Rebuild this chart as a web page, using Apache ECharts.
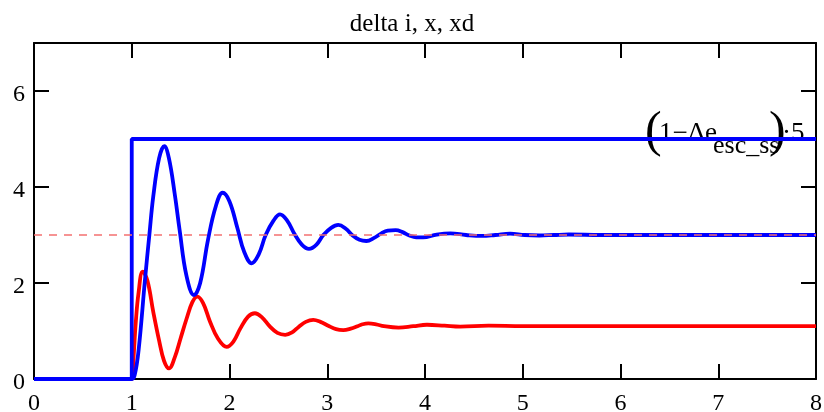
<!DOCTYPE html>
<html>
<head>
<meta charset="utf-8">
<script src="https://cdn.jsdelivr.net/npm/echarts@6/dist/echarts.min.js"></script>
<style>
  html, body { margin: 0; padding: 0; background: #fff; }
  #chart { width: 824px; height: 412px; }
</style>
</head>
<body>
<div id="chart"></div>
<script>
'use strict'
// x axis ticks and y axis ticks
var xTicks = [0, 1, 2, 3, 4, 5, 6, 7, 8];
var yTicks = [0, 2, 4, 6];

// step input (1-Δe_esc_ss)*5
var stepT = [0, 1, 1, 8];
var stepV = [0, 0, 5, 5];

// x (blue)
var xT = [0, 1, 1.03, 1.07, 1.135, 1.18, 1.22, 1.28, 1.333, 1.38, 1.44, 1.49, 1.56, 1.637, 1.7, 1.78, 1.86, 1.93, 2.0, 2.08, 2.15, 2.227, 2.3, 2.37, 2.45, 2.517, 2.59, 2.665, 2.74, 2.813, 2.89, 2.96, 3.04, 3.113, 3.19, 3.26, 3.33, 3.40, 3.48, 3.55, 3.62, 3.70, 3.77, 3.84, 3.91, 3.98, 4.12, 4.26, 4.42, 4.58, 4.72, 4.87, 5.02, 5.17, 5.32, 5.47, 5.8, 6.5, 8];
var xV = [0, 0, 0.08, 0.6, 2.06, 3.0, 3.8, 4.6, 4.85, 4.6, 3.85, 3.1, 2.15, 1.75, 2.0, 2.9, 3.6, 3.88, 3.7, 3.15, 2.65, 2.41, 2.6, 3.0, 3.3, 3.43, 3.3, 3.02, 2.8, 2.71, 2.8, 3.0, 3.15, 3.21, 3.13, 2.99, 2.9, 2.875, 2.94, 3.03, 3.09, 3.10, 3.06, 2.99, 2.95, 2.95, 3.01, 3.035, 3.0, 2.98, 3.0, 3.03, 3.0, 2.99, 3.0, 3.01, 3.0, 3.0, 3.0];

// xd (red)
var xdT = [0, 1, 1.02, 1.04, 1.07, 1.112, 1.16, 1.22, 1.28, 1.33, 1.381, 1.44, 1.5, 1.56, 1.62, 1.671, 1.73, 1.8, 1.88, 1.971, 2.04, 2.11, 2.19, 2.26, 2.33, 2.41, 2.49, 2.57, 2.64, 2.71, 2.78, 2.857, 2.93, 3.01, 3.09, 3.164, 3.24, 3.31, 3.36, 3.42, 3.5, 3.58, 3.73, 3.88, 4.02, 4.2, 4.36, 4.65, 5, 6, 8];
var xdV = [0, 0, 0.5, 1.15, 1.8, 2.235, 2.05, 1.4, 0.8, 0.38, 0.22, 0.45, 0.85, 1.25, 1.6, 1.715, 1.58, 1.2, 0.85, 0.67, 0.78, 1.05, 1.3, 1.37, 1.29, 1.1, 0.96, 0.92, 0.97, 1.09, 1.19, 1.23, 1.19, 1.11, 1.04, 1.02, 1.05, 1.1, 1.14, 1.16, 1.14, 1.1, 1.07, 1.1, 1.13, 1.11, 1.09, 1.11, 1.1, 1.1, 1.1];

// dashed reference level
var refT = [0, 8];
var refV = [3, 3];

function pairs(t, v) {
    var out = [];
    for (var i = 0; i < t.length; i++) out.push([t[i], v[i]]);
    return out;
}

var font = 'Liberation Serif';
var chart = echarts.init(document.getElementById('chart'));

var axisCommon = {
    type: 'value',
    axisLine: { show: true, onZero: false, lineStyle: { color: '#000', width: 2 } },
    axisTick: { show: true, inside: true, length: 15, lineStyle: { color: '#000', width: 2 } },
    splitLine: { show: false }
};

function txt(x, y, s, size) {
    return {
        type: 'text', left: x, top: y,
        style: { text: s, fontFamily: font, fontSize: size, fill: '#000' }
    };
}

var option = {
    backgroundColor: '#fff',
    animation: false,
    title: {
        text: 'delta i, x, xd',
        left: 'center',
        top: 7,
        textStyle: { fontFamily: font, fontSize: 25, fontWeight: 'normal', color: '#000' }
    },
    grid: { left: 34, right: 8, top: 43, bottom: 33, containLabel: false, outerBoundsMode: 'none' },
    xAxis: [
        Object.assign({}, axisCommon, {
            min: xTicks[0], max: xTicks[xTicks.length - 1], interval: 1,
            position: 'bottom',
            axisLabel: { color: '#000', fontFamily: font, fontSize: 24, margin: 13 }
        }),
        Object.assign({}, axisCommon, {
            min: xTicks[0], max: xTicks[xTicks.length - 1], interval: 1,
            position: 'top',
            axisLabel: { show: false }
        })
    ],
    yAxis: [
        Object.assign({}, axisCommon, {
            min: 0, max: 7, interval: 2,
            position: 'left',
            axisLabel: {
                color: '#000', fontFamily: font, fontSize: 24, margin: 9,
                verticalAlign: 'top', padding: [-8, 0, 0, 0],
                formatter: function (v) { return yTicks.indexOf(v) >= 0 ? String(v) : ''; }
            }
        }),
        Object.assign({}, axisCommon, {
            min: 0, max: 7, interval: 2,
            position: 'right',
            axisLabel: { show: false }
        })
    ],
    series: [
        {
            name: 'xd', type: 'line', data: pairs(xdT, xdV), smooth: 0.4,
            showSymbol: false, lineStyle: { color: '#ff0000', width: 3.8 }
        },
        {
            name: 'x', type: 'line', data: pairs(xT, xV), smooth: 0.4,
            showSymbol: false, lineStyle: { color: '#0000ff', width: 3.8 }
        },
        {
            name: 'step', type: 'line', data: pairs(stepT, stepV),
            showSymbol: false, lineStyle: { color: '#0000ff', width: 3.8 }
        },
        {
            name: 'ref', type: 'line', data: pairs(refT, refV),
            showSymbol: false, lineStyle: { color: '#f47070', width: 1.6, type: [8, 7] }
        }
    ],
    graphic: [
        txt(645, 108, '(', 50),
        txt(659, 120, '1\u2212\u0394e', 27),
        txt(713, 133, 'esc_ss', 26),
        txt(769, 108, ')', 50),
        txt(782, 120, '\u00b75', 27)
    ]
};
chart.setOption(option);
window.onresize = chart.resize;
</script>
</body>
</html>
